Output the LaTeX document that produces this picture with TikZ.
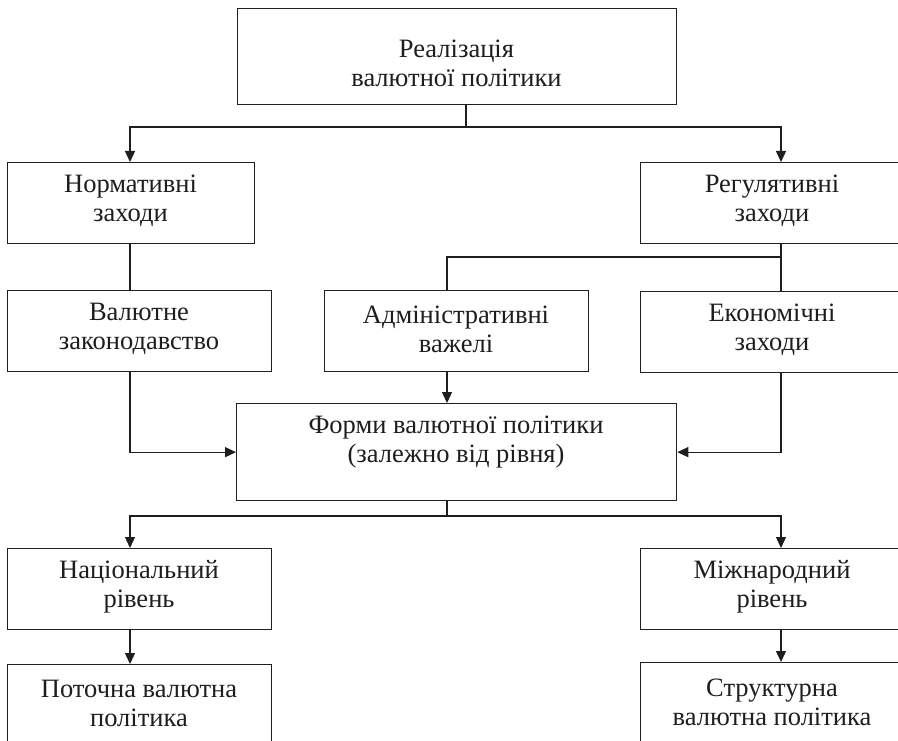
\documentclass[tikz,border=0pt]{standalone}
\usepackage{fontspec}
\setmainfont{Liberation Serif}
\usetikzlibrary{arrows.meta}
\definecolor{ink}{HTML}{1E1E1E}
\tikzset{
  boxnode/.style={draw=ink, line width=1.3pt, fill=white, inner sep=0pt, anchor=north west},
  txt/.style={align=center, text=ink, font=\fontsize{26.5}{29}\selectfont, inner sep=0pt},
  conn/.style={draw=ink, line width=1.3pt},
  arr/.style={conn, -{Triangle[length=11pt,width=10pt]}},
}
\begin{document}
\begin{tikzpicture}[x=1pt,y=-1pt]
\fill[white] (0,0) rectangle (898,741);
\useasboundingbox (0,0) rectangle (898,741);

% boxes
\node[boxnode, minimum width=439, minimum height=96] (top) at (237,8) {};
\node[boxnode, minimum width=247, minimum height=81] (norm) at (7,162) {};
\node[boxnode, minimum width=264, minimum height=81] (reg) at (640,162) {};
\node[boxnode, minimum width=264, minimum height=81] (val) at (7,290) {};
\node[boxnode, minimum width=264, minimum height=81] (adm) at (324,290) {};
\node[boxnode, minimum width=264, minimum height=81] (eko) at (640,291) {};
\node[boxnode, minimum width=440, minimum height=97] (form) at (236,403) {};
\node[boxnode, minimum width=264, minimum height=81] (nat) at (7,548) {};
\node[boxnode, minimum width=264, minimum height=81] (mizh) at (640,548) {};
\node[boxnode, minimum width=264, minimum height=110] (pot) at (7,664) {};
\node[boxnode, minimum width=264, minimum height=110] (str) at (640,662) {};

% texts
\node[txt] (ttop) at (456.5,63) {Реалізація\\валютної політики};
\node[txt] (tnorm) at (130.5,201) {Нормативні\\заходи};
\node[txt] (treg) at (772,201) {Регулятивні\\заходи};
\node[txt] (tval) at (139,329) {Валютне\\законодавство};
\node[txt] (tadm) at (456,329) {Адміністративні\\важелі};
\node[txt] (teko) at (772,330) {Економічні\\заходи};
\node[txt] (tform) at (456,442) {Форми валютної політики\\(залежно від рівня)};
\node[txt] (tnat) at (139,587) {Національний\\рівень};
\node[txt] (tmizh) at (772,587) {Міжнародний\\рівень};
\node[txt] (tpot) at (139,703) {Поточна валютна\\політика};
\node[txt] (tstr) at (772,702) {Структурна\\валютна політика};

% helper coordinates
\coordinate (xl) at (130,0);
\coordinate (xr) at (781,0);
\coordinate (xm) at (447,0);
\coordinate (t1) at (466,127);
\coordinate (t2) at (781,257);
\coordinate (t3) at (447,516);

% connectors
\draw[conn] (top.south -| t1) -- (t1);
\draw[arr] (t1) -| (norm.north -| xl);
\draw[arr] (t1) -| (reg.north -| xr);

\draw[conn] (norm.south -| xl) -- (val.north -| xl);

\draw[conn] (reg.south -| xr) -- (eko.north -| xr);
\draw[conn] (t2) -| (adm.north -| xm);

\draw[arr] (adm.south -| xm) -- (form.north -| xm);
\draw[arr] (val.south -| xl) |- (form.west);
\draw[arr] (eko.south -| xr) |- (form.east);

\draw[conn] (form.south -| t3) -- (t3);
\draw[arr] (t3) -| (nat.north -| xl);
\draw[arr] (t3) -| (mizh.north -| xr);

\draw[arr] (nat.south -| xl) -- (pot.north -| xl);
\draw[arr] (mizh.south -| xr) -- (str.north -| xr);
\end{tikzpicture}
\end{document}
